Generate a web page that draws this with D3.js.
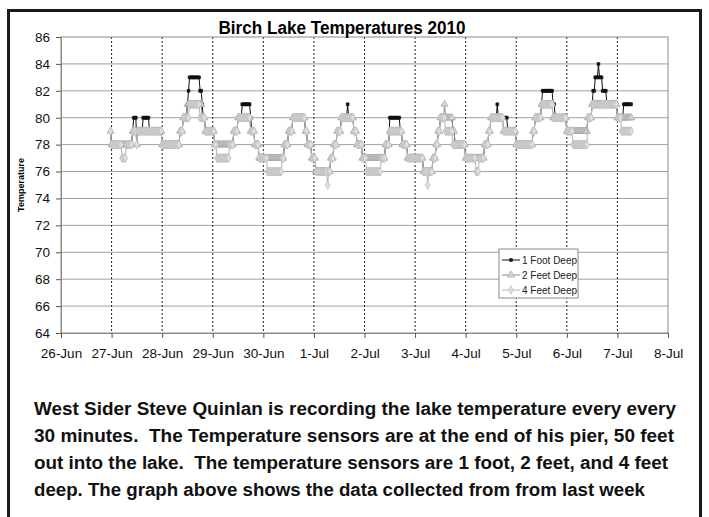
<!DOCTYPE html>
<html>
<head>
<meta charset="utf-8">
<script src="https://cdn.jsdelivr.net/npm/d3@7"></script>
<style>
  html, body { margin: 0; padding: 0; background: #fff; }
  svg { display: block; font-family: "Liberation Sans", Arial, sans-serif; }
</style>
</head>
<body>
<div id="chart"></div>
<script>
/* Birch Lake Temperatures 2010 — three sensor depths, one reading every 30 min */

const startTime = new Date(2010, 5, 26, 23, 30);   // first reading
const stepMinutes = 30;

// readings as runs: [temperature, number of consecutive 30-minute samples]
const runs1ft = [
  [79,1],[78,20],[79,1],[80,3],[78,1],[79,5],[80,6],[79,12],[78,17],[79,3],[80,4],
  [81,1],[82,1],[83,10],[82,2],[81,1],[80,2],[79,9],[78,18],[79,4],[80,4],[81,8],
  [80,1],[79,3],[78,4],[77,24],[78,4],[79,4],[80,12],[79,2],[78,4],[77,4],[76,14],
  [77,3],[78,3],[79,4],[80,6],[81,1],[80,5],[79,3],[78,5],[77,22],[78,4],[80,10],
  [79,2],[78,5],[77,15],[76,9],[77,3],[78,2],[79,2],[80,12],[79,2],[78,10],[77,18],
  [78,4],[79,2],[80,6],[81,1],[80,5],[80,4],[79,8],[78,16],[79,2],[80,6],[81,1],
  [82,10],[81,2],[80,11],[79,20],[80,4],[81,1],[82,2],[83,3],[84,1],[83,3],[82,4],
  [81,10],[80,6],[81,8]
];
const runs2ft = [
  [79,1],[78,20],[79,4],[78,1],[79,23],[78,17],[79,3],[80,4],[81,14],[80,3],[79,9],
  [78,18],[79,4],[80,12],[79,4],[78,4],[77,24],[78,4],[79,4],[80,12],[79,2],[78,4],
  [77,4],[76,14],[77,3],[78,3],[79,4],[80,12],[79,3],[78,5],[77,22],[78,4],[79,12],
  [78,5],[77,15],[76,9],[77,3],[78,2],[79,2],[80,4],[81,1],[80,7],[79,2],[78,10],
  [77,18],[78,4],[79,2],[80,12],[79,12],[78,16],[79,2],[80,6],[81,11],[80,13],
  [79,20],[80,4],[81,24],[80,14]
];
const runs4ft = [
  [79,1],[78,10],[77,4],[78,6],[79,4],[78,1],[79,23],[78,17],[79,3],[80,6],[81,10],
  [80,5],[79,9],[78,2],[77,12],[78,4],[79,4],[80,12],[79,4],[78,4],[77,8],[76,14],
  [77,2],[78,4],[79,4],[80,12],[79,2],[78,4],[77,4],[76,11],[75,1],[76,2],[77,3],
  [78,3],[79,4],[80,12],[79,3],[78,5],[77,4],[76,14],[77,4],[78,4],[79,12],[78,5],
  [77,15],[76,4],[75,1],[76,4],[77,3],[78,2],[79,2],[80,5],[79,7],[78,12],[77,10],
  [76,3],[77,5],[78,4],[79,2],[80,12],[79,12],[78,16],[79,2],[80,6],[81,11],[80,13],
  [79,6],[78,14],[80,4],[81,24],[80,4],[79,10]
];

const seriesNames = ['1 Foot Deep', '2 Feet Deep', '4 Feet Deep'];
const yTicks = [64, 66, 68, 70, 72, 74, 76, 78, 80, 82, 84, 86];
const xStart = new Date(2010, 5, 26);
const xEnd = new Date(2010, 6, 8);

const caption = [
  'West Sider Steve Quinlan is recording the lake temperature every every',
  '30 minutes.  The Temperature sensors are at the end of his pier, 50 feet',
  'out into the lake.  The temperature sensors are 1 foot, 2 feet, and 4 feet',
  'deep. The graph above shows the data collected from from last week'
];

/* ── layout ── */
const W = 709, H = 517;
const plot = { left: 61, right: 668, top: 37, bottom: 333 };

function expand(runs) {
  const pts = [];
  let i = 0;
  runs.forEach(([v, n]) => {
    for (let k = 0; k < n; k++) {
      pts.push({ t: new Date(startTime.getTime() + i * stepMinutes * 60000), v });
      i++;
    }
  });
  return pts;
}

const series = [runs1ft, runs2ft, runs4ft].map(expand);

const styles = [
  { line: '#111', mFill: '#111', mStroke: '#111', symbol: d3.symbolSquare, size: 8 },
  { line: '#8c8c8c', mFill: '#d4d4d4', mStroke: '#a0a0a0', symbol: d3.symbolTriangle, size: 22 },
  { line: '#b4b4b4', mFill: '#dedede', mStroke: '#b4b4b4', symbol: d3.symbolDiamond, size: 22 }
];

const x = d3.scaleTime().domain([xStart, xEnd]).range([plot.left, plot.right]);
const y = d3.scaleLinear().domain([64, 86]).range([plot.bottom, plot.top]);

const svg = d3.select('#chart').append('svg')
  .attr('width', W).attr('height', H);

svg.append('rect').attr('width', W).attr('height', H).attr('fill', '#fff');

/* ── gridlines ── */
svg.append('g')
  .selectAll('line')
  .data(yTicks.slice(1, -1))
  .join('line')
  .attr('x1', plot.left).attr('x2', plot.right)
  .attr('y1', d => y(d)).attr('y2', d => y(d))
  .attr('stroke', '#a0a0a0').attr('stroke-width', 1);

const days = d3.timeDay.range(xStart, d3.timeDay.offset(xEnd, 1));
svg.append('g')
  .selectAll('line')
  .data(days.slice(1, -1))
  .join('line')
  .attr('x1', d => x(d)).attr('x2', d => x(d))
  .attr('y1', plot.top).attr('y2', plot.bottom)
  .attr('stroke', '#222').attr('stroke-width', 1)
  .attr('stroke-dasharray', '2,2');

/* ── plot border ── */
svg.append('rect')
  .attr('x', plot.left).attr('y', plot.top)
  .attr('width', plot.right - plot.left).attr('height', plot.bottom - plot.top)
  .attr('fill', 'none').attr('stroke', '#8a8a8a');

/* ── axes ── */
const yAxis = svg.append('g')
  .attr('transform', `translate(${plot.left},0)`)
  .call(d3.axisLeft(y).tickValues(yTicks).tickSize(5).tickPadding(6));
const xAxis = svg.append('g')
  .attr('transform', `translate(0,${plot.bottom})`)
  .call(d3.axisBottom(x).tickValues(days).tickFormat(d3.timeFormat('%-d-%b')).tickSize(5).tickPadding(10));

[yAxis, xAxis].forEach(a => {
  a.select('.domain').attr('stroke', '#8a8a8a');
  a.selectAll('.tick line').attr('stroke', '#555');
  a.selectAll('.tick text').attr('font-size', 13.5).attr('fill', '#111')
    .attr('font-family', '"Liberation Sans", Arial, sans-serif');
});

/* ── series ── */
const line = d3.line().x(d => x(d.t)).y(d => y(d.v));

series.forEach((pts, i) => {
  const st = styles[i];
  const g = svg.append('g');
  g.append('path')
    .datum(pts)
    .attr('d', line)
    .attr('fill', 'none')
    .attr('stroke', st.line)
    .attr('stroke-width', 1);
  g.selectAll('path.m')
    .data(pts)
    .join('path')
    .attr('class', 'm')
    .attr('transform', d => `translate(${x(d.t)},${y(d.v)})`)
    .attr('d', d3.symbol(st.symbol, st.size))
    .attr('fill', st.mFill)
    .attr('stroke', st.mStroke)
    .attr('stroke-width', 0.6);
});

/* ── legend ── */
const lg = svg.append('g').attr('transform', 'translate(499,249)');
lg.append('rect')
  .attr('width', 79).attr('height', 49)
  .attr('fill', '#fff').attr('stroke', '#8a8a8a');
seriesNames.forEach((name, i) => {
  const st = styles[i];
  const row = lg.append('g').attr('transform', `translate(0,${11 + i * 15})`);
  row.append('line').attr('x1', 3).attr('x2', 21)
    .attr('stroke', st.line).attr('stroke-width', 1);
  row.append('path')
    .attr('transform', 'translate(12,0)')
    .attr('d', d3.symbol(st.symbol, st.size))
    .attr('fill', st.mFill).attr('stroke', st.mStroke).attr('stroke-width', 0.6);
  row.append('text')
    .attr('x', 23).attr('y', 4)
    .attr('font-size', 10).attr('fill', '#222')
    .text(name);
});

/* ── titles ── */
svg.append('text')
  .attr('x', 342).attr('y', 34)
  .attr('text-anchor', 'middle')
  .attr('font-size', 17.5).attr('font-weight', 'bold')
  .attr('textLength', 247).attr('lengthAdjust', 'spacingAndGlyphs')
  .text('Birch Lake Temperatures 2010');

svg.append('text')
  .attr('transform', `translate(24,${(plot.top + plot.bottom) / 2}) rotate(-90)`)
  .attr('text-anchor', 'middle')
  .attr('font-size', 9).attr('font-weight', 'bold')
  .text('Temperature');

/* ── caption ── */
const capWidths = [642, 640, 634, 611];
svg.append('g')
  .selectAll('text')
  .data(caption)
  .join('text')
  .attr('x', 34)
  .attr('y', (d, i) => 415 + i * 27)
  .attr('font-size', 18).attr('font-weight', 'bold').attr('fill', '#111')
  .attr('textLength', (d, i) => capWidths[i])
  .attr('lengthAdjust', 'spacingAndGlyphs')
  .style('white-space', 'pre')
  .text(d => d);

/* ── outer frame ── */
svg.append('rect')
  .attr('x', 8.5).attr('y', 10.5)
  .attr('width', 692).attr('height', 540)
  .attr('fill', 'none').attr('stroke', '#1a1a1a').attr('stroke-width', 3);
</script>
</body>
</html>
